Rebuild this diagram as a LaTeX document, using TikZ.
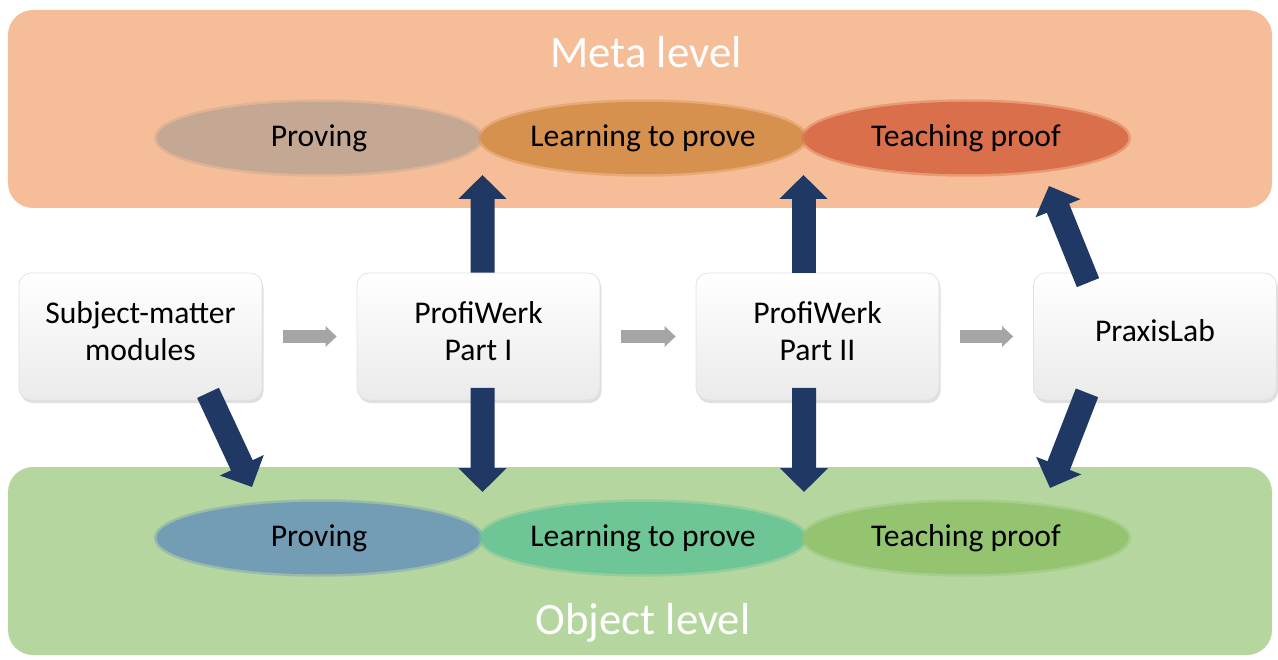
\documentclass[tikz,border=0pt]{standalone}
\usepackage{fontspec}
\setmainfont{Carlito}
\usepackage{tikz}
\usetikzlibrary{shapes,arrows.meta,shadows}
\definecolor{metabg}{RGB}{246,190,152}
\definecolor{objbg}{RGB}{182,214,160}
\definecolor{mprovc}{RGB}{197,168,148}
\definecolor{mlearnc}{RGB}{214,145,78}
\definecolor{mteachc}{RGB}{217,112,75}
\definecolor{oprovc}{RGB}{115,157,180}
\definecolor{olearnc}{RGB}{110,198,150}
\definecolor{oteachc}{RGB}{148,196,112}
\definecolor{arrblue}{RGB}{31,56,100}
\definecolor{arrgray}{RGB}{165,165,165}
\tikzset{band/.style={rectangle,rounded corners=0.5cm,minimum width=25.28cm,inner sep=0},
  title/.style={text=white,font=\fontsize{25.5}{30}\selectfont},
  ell/.style={ellipse,minimum width=6.5cm,minimum height=1.45cm,inner sep=0,draw opacity=0.45,line width=0.1cm,font=\fontsize{18}{21.6}\selectfont},
  box/.style={rectangle,rounded corners=0.24cm,minimum width=4.86cm,minimum height=2.54cm,align=center,draw=black!12,top color=white,bottom color=black!8,drop shadow={shadow xshift=0.03cm,shadow yshift=-0.06cm,opacity=0.25},font=\fontsize{18}{21.6}\selectfont,execute at end node={\rule[-0.22cm]{0pt}{0pt}}},
  bigarr/.style={draw=arrblue,line width=0.48cm,-{Triangle[width=0.94cm,length=0.48cm]}},
  grayarr/.style={draw=arrgray,line width=0.26cm,-{Triangle[width=0.4cm,length=0.22cm]},shorten <=0.42cm,shorten >=0.4cm}}

\begin{document}
\begin{tikzpicture}
        \useasboundingbox (0,0) rectangle (25.56,13.18);

        \node[band,fill=metabg,minimum height=3.96cm] (meta) at (12.8,11.0) {};
        \node[band,fill=objbg,minimum height=3.76cm] (object) at (12.8,1.96) {};
        \node[title] (metatitle) at (12.92,12.14) {Meta level};
        \node[title] (objtitle) at (12.86,0.72) {Object level};

        \node[ell,fill=mprovc,draw=mprovc] (mprov) at (6.38,10.42) {Proving};
        \node[ell,fill=mlearnc,draw=mlearnc] (mlearn) at (12.86,10.42) {Learning to prove};
        \node[ell,fill=mteachc,draw=mteachc] (mteach) at (19.32,10.42) {Teaching proof};
        \node[ell,fill=oprovc,draw=oprovc] (oprov) at (6.38,2.42) {Proving};
        \node[ell,fill=olearnc,draw=olearnc] (olearn) at (12.86,2.42) {Learning to prove};
        \node[ell,fill=oteachc,draw=oteachc] (oteach) at (19.32,2.42) {Teaching proof};

        \node[box] (sub) at (2.81,6.45) {Subject-matter\\modules};
        \node[box] (pw1) at (9.57,6.45) {ProfiWerk\\Part I};
        \node[box] (pw2) at (16.35,6.45) {ProfiWerk\\Part II};
        \node[box] (lab) at (23.1,6.45) {PraxisLab};

        \coordinate (subtip) at (5.04,3.44);
        \coordinate (pw1up) at (9.65,9.68);
        \coordinate (pw1down) at (9.65,3.34);
        \coordinate (pw2up) at (16.07,9.68);
        \coordinate (pw2down) at (16.08,3.34);
        \coordinate (labup) at (20.98,9.46);
        \coordinate (labdown) at (21.0,3.42);

        \draw [grayarr] (sub) to (pw1);
        \draw [grayarr] (pw1) to (pw2);
        \draw [grayarr] (pw2) to (lab);

        \draw [bigarr] ([xshift=1.35cm,yshift=0.15cm]sub.south) to (subtip);
        \draw [bigarr] ([xshift=0.08cm]pw1.north) to (pw1up);
        \draw [bigarr] ([xshift=0.08cm,yshift=0.25cm]pw1.south) to (pw1down);
        \draw [bigarr] ([xshift=-0.28cm]pw2.north) to (pw2up);
        \draw [bigarr] ([xshift=-0.27cm,yshift=0.25cm]pw2.south) to (pw2down);
        \draw [bigarr] ([xshift=-1.34cm,yshift=-0.2cm]lab.north) to (labup);
        \draw [bigarr] ([xshift=-1.36cm,yshift=0.15cm]lab.south) to (labdown);
    \end{tikzpicture}
\end{document}
